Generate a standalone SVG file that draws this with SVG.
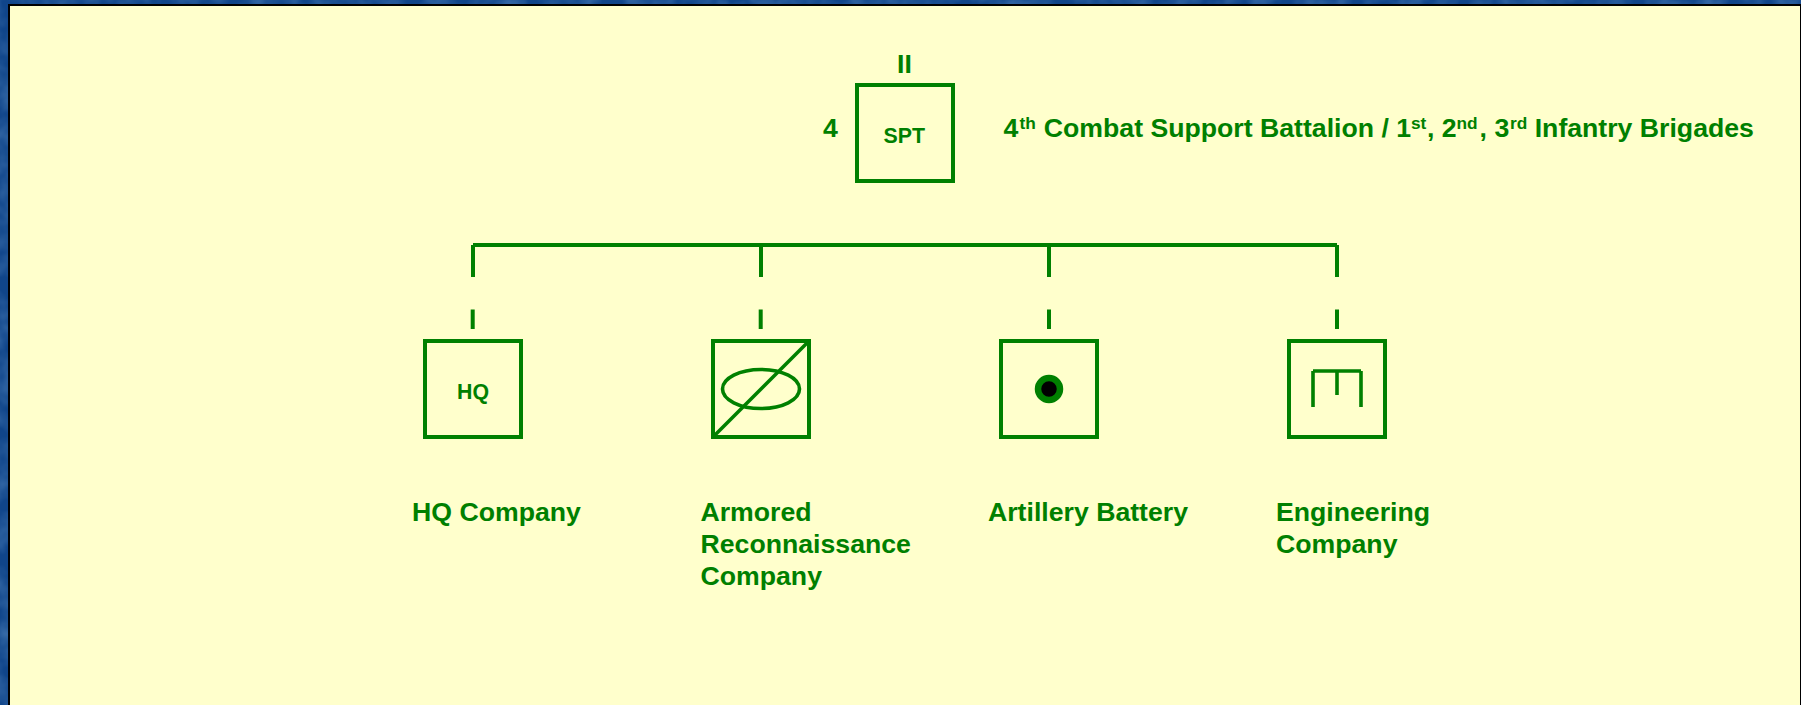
<svg xmlns="http://www.w3.org/2000/svg" width="1801" height="705" viewBox="0 0 1801 705">
<style>
.t{font-family:"Liberation Sans",Arial,sans-serif;font-weight:700;fill:#008000;font-size:26.67px}
.s{font-size:21.33px}
.sup{font-size:17.3px}
.b{fill:none;stroke:#008000;stroke-width:4}
.l{fill:none;stroke:#008000;stroke-width:3.6}
</style>
<defs>
<filter id="mottle" x="0" y="0" width="100%" height="100%">
<feTurbulence type="fractalNoise" baseFrequency="0.04" numOctaves="3" seed="4"/>
<feColorMatrix type="matrix" values="0 0 0 0 0.2  0 0 0 0 0.42  0 0 0 0 0.72  0 0 0 1.4 -0.45"/>
</filter>
</defs>
<rect width="1801" height="705" fill="#10458a"/>
<rect width="1801" height="705" filter="url(#mottle)" opacity="0.45"/>
<rect x="8" y="4" width="1793" height="701" fill="#000"/>
<rect x="10" y="6" width="1790" height="699" fill="#ffffcc"/>
<g id="connectors" fill="none" stroke="#008000" stroke-width="4">
<path d="M473 245H1337"/>
<path d="M473 245V277M761 245V277M1049 245V277M1337 245V277"/>
<path d="M472.7 309.5V329M760.7 309.5V329M1049 309.5V329M1337 309.5V329"/>
</g>
<g id="spt">
<rect class="b" x="857" y="85" width="96" height="96"/>
<text class="t s" x="904.3" y="143" text-anchor="middle">SPT</text>
<text class="t" x="904.5" y="72.5" text-anchor="middle">II</text>
<text class="t" x="830.3" y="136.5" text-anchor="middle">4</text>
</g>
<g id="title">
<text class="t" x="1003.5" y="136.5">4<tspan class="sup" x="1019.5" dy="-8">th</tspan><tspan x="1043.8" dy="8">Combat Support Battalion / 1</tspan><tspan class="sup" x="1411" dy="-8">st</tspan><tspan x="1427" dy="8">, 2</tspan><tspan class="sup" x="1456.5" dy="-8">nd</tspan><tspan x="1479.6" dy="8">, 3</tspan><tspan class="sup" x="1510" dy="-8">rd</tspan><tspan x="1534.7" dy="8">Infantry Brigades</tspan></text>
</g>
<g id="hq">
<rect class="b" x="425" y="341" width="96" height="96"/>
<text class="t s" x="473" y="399" text-anchor="middle">HQ</text>
<text class="t" x="412" y="521">HQ Company</text>
</g>
<g id="armored">
<rect class="b" x="713" y="341" width="96" height="96"/>
<ellipse class="l" cx="761" cy="389" rx="38.5" ry="19.5"/>
<path class="l" d="M713 437L809 341"/>
<text class="t" x="700.5" y="521">Armored</text>
<text class="t" x="700.5" y="553">Reconnaissance</text>
<text class="t" x="700.5" y="585">Company</text>
</g>
<g id="artillery">
<rect class="b" x="1001" y="341" width="96" height="96"/>
<circle cx="1049" cy="389" r="11" fill="#000" stroke="#008000" stroke-width="6.5"/>
<text class="t" x="988" y="521">Artillery Battery</text>
</g>
<g id="engineering">
<rect class="b" x="1289" y="341" width="96" height="96"/>
<path class="l" d="M1313 371V407M1361 371V407M1313 371H1361M1337 371V395"/>
<text class="t" x="1276" y="521">Engineering</text>
<text class="t" x="1276" y="553">Company</text>
</g>
</svg>
